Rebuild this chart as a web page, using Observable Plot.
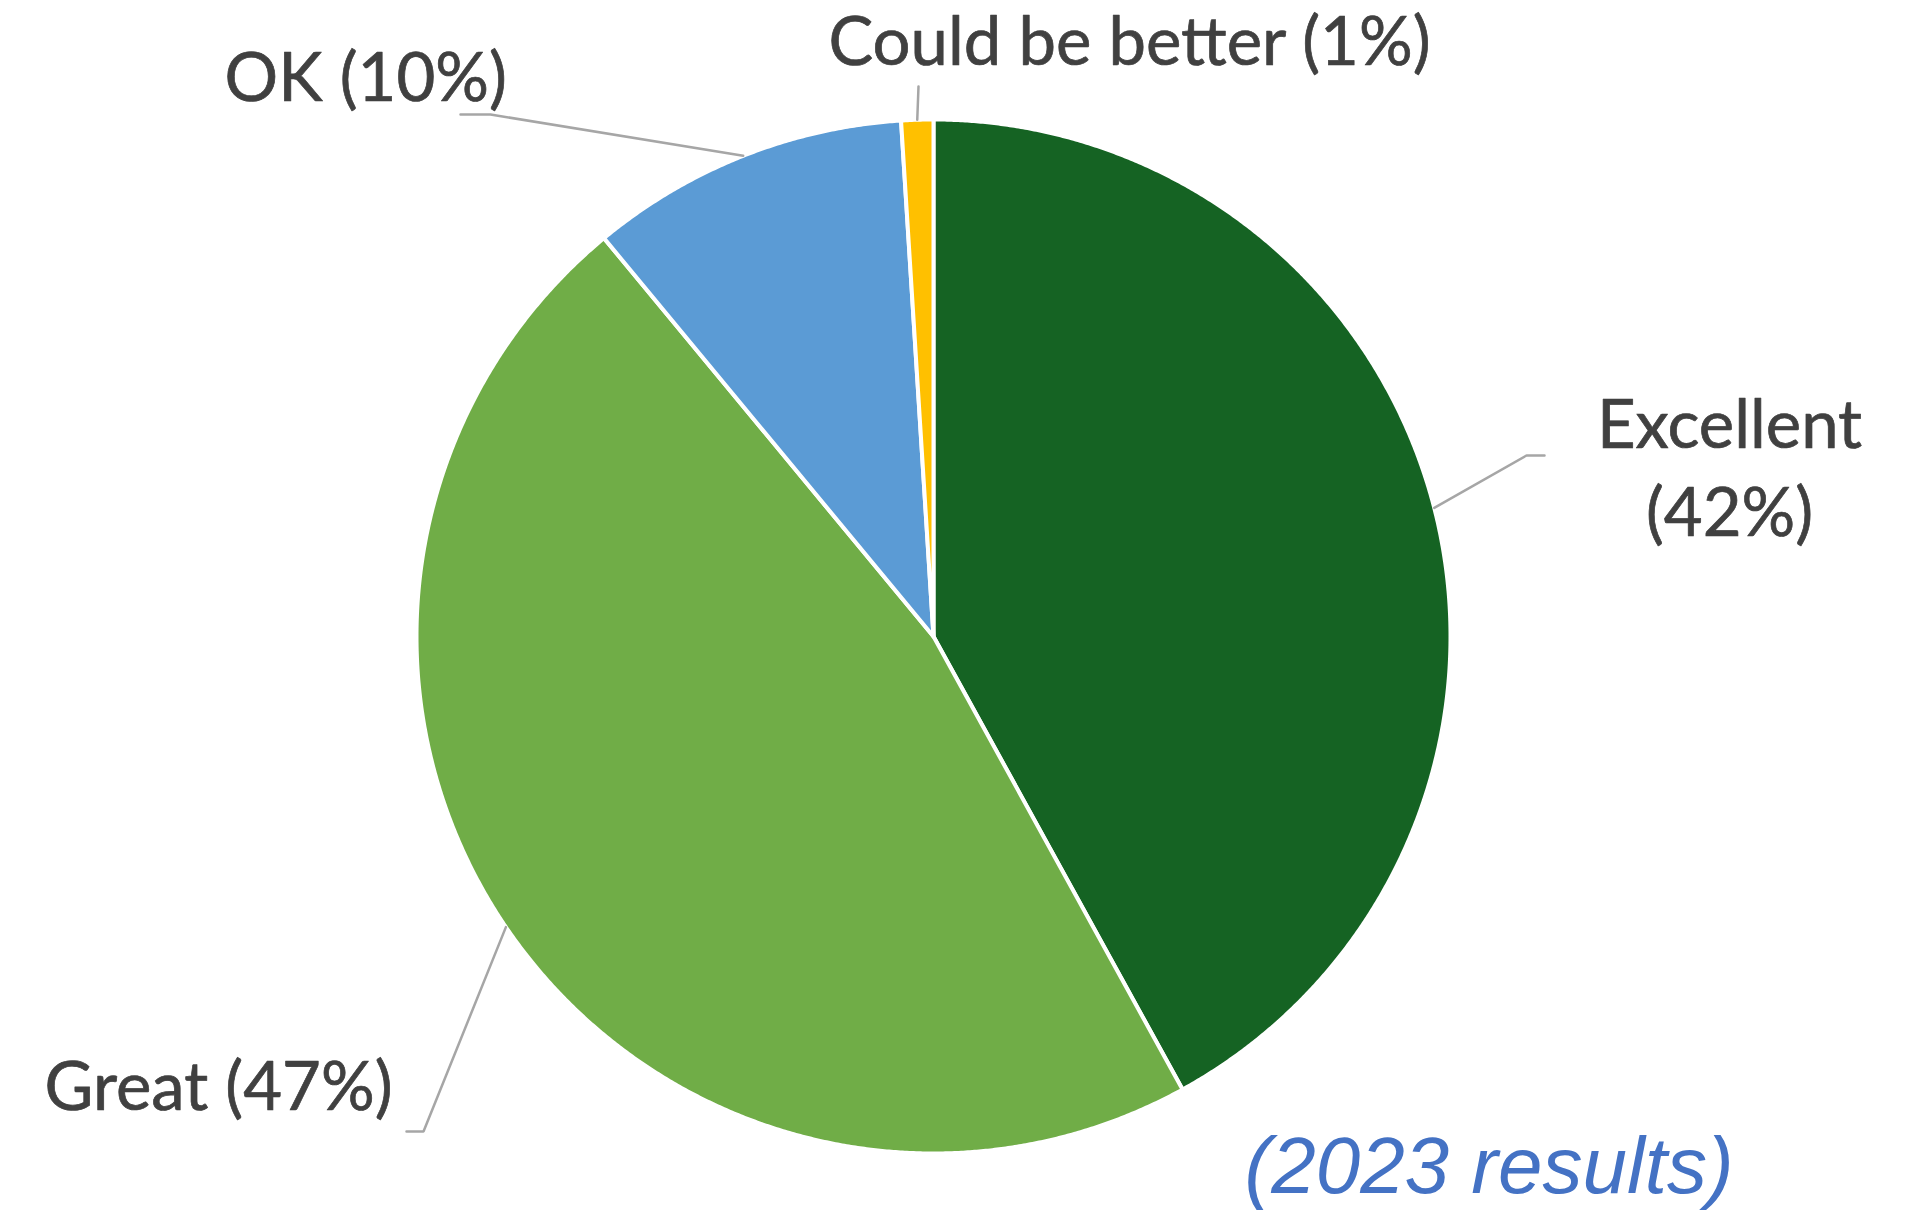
<!DOCTYPE html>
<html><head><meta charset="utf-8">
<script src="https://cdn.jsdelivr.net/npm/d3@7"></script>
<script src="https://cdn.jsdelivr.net/npm/@observablehq/plot@0.6"></script>
<style>html,body{margin:0;padding:0;background:#fff;overflow:hidden}</style>
</head><body><div id="chart"></div>
<script>
// ---- data ----
const categories = ["Excellent", "Great", "OK", "Could be better"];
const values = [42, 47, 10, 1];
const colors = ["#156323", "#70AD47", "#5B9BD5", "#FFC000"];
const subtitle = "(2023 results)";

// ---- layout ----
const W = 1932, H = 1211, CX = 933, CY = 636, R = 517;
const px = x => (x - CX) / R, py = y => (CY - y) / R;

const total = d3.sum(values);
let acc = 0;
const slices = categories.map((c, i) => {
  const a0 = acc / total * 2 * Math.PI; acc += values[i];
  const a1 = acc / total * 2 * Math.PI;
  return {c, v: values[i], a0, a1, mid: (a0 + a1) / 2};
});

const piePts = [];
for (const s of slices) {
  piePts.push({c: s.c, x: 0, y: 0});
  const n = Math.max(2, Math.ceil((s.a1 - s.a0) / (Math.PI / 720)));
  for (let k = 0; k <= n; k++) {
    const a = s.a0 + (s.a1 - s.a0) * k / n;
    piePts.push({c: s.c, x: Math.sin(a), y: Math.cos(a)});
  }
  piePts.push({c: s.c, x: 0, y: 0});
}

// label placement (pixel positions of leader elbows/ends and text anchors)
const labelLayout = {
  "Excellent":       {elbow: [1526, 455], end: [1544, 455], text: [1729, 535], anchor: "middle", split: true},
  "Great":           {elbow: [423, 1131], end: [406, 1131], text: [44, 1109], anchor: "start"},
  "OK":              {elbow: [490, 114],  end: [460, 114],  text: [224, 100], anchor: "start"},
  "Could be better": {elbow: null,        end: [918, 86],   text: [1129, 64], anchor: "middle"}
};

const leaderPts = [];
const labels = [];
for (const s of slices) {
  const L = labelLayout[s.c];
  leaderPts.push({c: s.c, x: Math.sin(s.mid), y: Math.cos(s.mid)});
  if (L.elbow) leaderPts.push({c: s.c, x: px(L.elbow[0]), y: py(L.elbow[1])});
  leaderPts.push({c: s.c, x: px(L.end[0]), y: py(L.end[1])});
  labels.push({
    text: L.split ? `${s.c}\n(${s.v}%)` : `${s.c} (${s.v}%)`,
    x: px(L.text[0]), y: py(L.text[1]), anchor: L.anchor
  });
}

const chart = Plot.plot({
  width: W, height: H, margin: 0,
  x: {domain: [px(0), px(W)], axis: null},
  y: {domain: [py(H), py(0)], axis: null},
  color: {domain: categories, range: colors},
  style: {background: "white", overflow: "visible"},
  marks: [
    Plot.line(piePts, {x: "x", y: "y", z: "c", fill: "c", stroke: "white", strokeWidth: 4, strokeLinejoin: "round", curve: "linear"}),
    Plot.line(leaderPts, {x: "x", y: "y", z: "c", stroke: "#A6A6A6", strokeWidth: 2.5, strokeLinejoin: "miter"}),
    ...["start", "middle"].map(a => Plot.text(labels.filter(d => d.anchor === a), {
      x: "x", y: "y", text: "text", textAnchor: a, lineAnchor: "bottom",
      fontSize: 67, fontFamily: "Lato", fill: "#404040", stroke: "#404040", strokeWidth: 0.7,
      lineHeight: 1.31
    })),
    Plot.text([subtitle], {
      x: px(1244), y: py(1192), text: d => d, textAnchor: "start", lineAnchor: "bottom",
      fontSize: 80, fontFamily: "Liberation Sans", fontStyle: "italic", fill: "#4472C4"
    })
  ]
});
document.getElementById("chart").appendChild(chart);
</script>
</body></html>
